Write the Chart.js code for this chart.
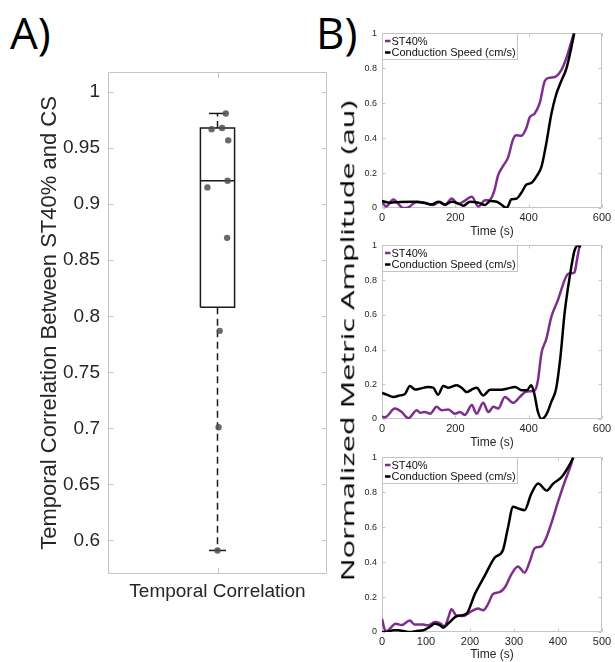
<!DOCTYPE html>
<html lang="en">
<head>
<meta charset="UTF-8">
<title>ST40% vs Conduction Speed</title>
<script src="https://cdn.jsdelivr.net/npm/chart.js@4.4.1/dist/chart.umd.min.js"></script>
<style>
  html, body { margin: 0; padding: 0; background: #fff; overflow: hidden; }
  #wrap { position: relative; width: 615px; height: 662px; }
  canvas { position: absolute; }
  .panel { position: absolute; font-family: "Open Sans", sans-serif; font-size: 44px; line-height: 44px; color: #000; }
  #ylabB { position: absolute; font-family: "Open Sans", sans-serif; font-size: 19px; white-space: nowrap; color: #000; }
</style>
</head>
<body>
<div id="wrap">
  <div class="panel" style="left:10px; top:10px">A)</div>
  <div class="panel" style="left:316px; top:10px">B)</div>
  <canvas id="chartA" width="340" height="662" style="left:0; top:0"></canvas>
  <canvas id="chartB1" width="260" height="217" style="left:355px; top:23px"></canvas>
  <canvas id="chartB2" width="260" height="216" style="left:355px; top:235px"></canvas>
  <canvas id="chartB3" width="260" height="215" style="left:355px; top:447px"></canvas>
  <div id="ylabB">Normalized Metric Amplitude (au)</div>
</div>

<script>
// ---- panel A data ----
const categories = ['Temporal Correlation'];
const corrValues = [0.981, 0.968, 0.967, 0.957, 0.921, 0.915, 0.870, 0.787, 0.701, 0.591];
const corrJitter = [0.038, 0.021, -0.027, 0.049, 0.046, -0.046, 0.044, 0.010, 0.005, 0];
const boxStats = [0.591, 0.808, 0.921, 0.968, 0.981]; // low whisker, q1, median, q3, high whisker
const corrTicks = [0.6, 0.65, 0.7, 0.75, 0.8, 0.85, 0.9, 0.95, 1];

// ---- panel B data ----
const ampTicks = [0, 0.2, 0.4, 0.6, 0.8, 1];
const timeTicks600 = [0, 200, 400, 600];
const timeTicks500 = [0, 100, 200, 300, 400, 500];

const st1Time = [0, 11, 31, 58, 72, 95, 117, 140, 158, 172, 190, 208, 222, 245, 263, 281, 292, 305, 317, 330, 344, 357, 366, 380, 394, 403, 416, 430, 444, 457, 471, 489, 503, 516, 526];
const st1 = [0.036, 0.008, 0.049, 0, 0.004, 0.036, 0.03, 0.017, 0.036, 0.017, 0.055, 0.023, 0.036, 0.064, 0.008, 0.045, 0.045, 0.09, 0.19, 0.24, 0.29, 0.39, 0.416, 0.414, 0.46, 0.52, 0.54, 0.6, 0.727, 0.746, 0.75, 0.79, 0.86, 0.95, 1.02];
const cs1Time = [0, 22, 49, 85, 113, 135, 153, 172, 190, 208, 222, 240, 263, 281, 295, 313, 327, 340, 353, 366, 380, 394, 407, 421, 435, 448, 462, 475, 489, 503, 516, 526];
const cs1 = [0.04, 0.03, 0.035, 0.036, 0.03, 0.02, 0.036, 0.02, 0.036, 0.026, 0.013, 0.036, 0.03, 0.017, 0.04, 0.036, 0.017, 0.0, 0.05, 0.053, 0.087, 0.134, 0.143, 0.18, 0.237, 0.37, 0.54, 0.65, 0.727, 0.8, 0.915, 1.02];

const st2Time = [0, 8, 35, 54, 72, 95, 104, 117, 131, 149, 163, 181, 199, 213, 226, 245, 258, 276, 290, 304, 317, 335, 358, 376, 390, 404, 417, 425, 435, 448, 462, 480, 498, 507, 518, 525, 532, 539];
const st2 = [0.013, 0.01, 0.06, 0.04, 0.004, 0.05, 0.036, 0.04, 0.03, 0.07, 0.05, 0.055, 0.03, 0.04, 0.023, 0.08, 0.03, 0.093, 0.04, 0.07, 0.06, 0.127, 0.093, 0.127, 0.155, 0.16, 0.165, 0.22, 0.38, 0.46, 0.59, 0.686, 0.8, 0.835, 0.84, 0.845, 0.92, 1.0];
const cs2Time = [0, 13, 31, 49, 63, 76, 90, 104, 126, 140, 153, 167, 181, 204, 217, 231, 245, 258, 276, 295, 317, 340, 363, 381, 395, 407, 416, 425, 435, 448, 462, 475, 487, 498, 512, 525, 535, 542];
const cs2 = [0.15, 0.14, 0.127, 0.136, 0.145, 0.19, 0.17, 0.175, 0.185, 0.18, 0.14, 0.19, 0.18, 0.195, 0.18, 0.155, 0.17, 0.18, 0.136, 0.168, 0.168, 0.174, 0.185, 0.165, 0.165, 0.195, 0.14, 0.043, 0.0, 0.025, 0.1, 0.176, 0.365, 0.61, 0.82, 0.97, 1.0, 0.99];

const st3Time = [0, 8, 14, 31, 45, 63, 74, 93, 105, 120, 132, 142, 151, 158, 169, 184, 203, 218, 230, 241, 252, 267, 279, 294, 309, 324, 336, 347, 362, 373, 385, 400, 415, 430, 434];
const st3 = [0.075, 0.005, 0.01, 0.047, 0.04, 0.066, 0.043, 0.043, 0.038, 0.057, 0.05, 0.032, 0.085, 0.13, 0.094, 0.092, 0.118, 0.134, 0.125, 0.16, 0.217, 0.228, 0.255, 0.33, 0.375, 0.34, 0.405, 0.48, 0.49, 0.538, 0.623, 0.745, 0.858, 0.962, 1.0];
const cs3Time = [0, 11, 26, 37, 48, 64, 79, 94, 109, 120, 132, 139, 151, 166, 177, 192, 211, 233, 256, 275, 286, 298, 309, 324, 339, 355, 374, 389, 408, 423, 435];
const cs3 = [0, 0, 0.01, 0.01, 0.006, 0, 0.006, 0.01, 0.03, 0.047, 0.038, 0.025, 0.05, 0.085, 0.094, 0.104, 0.217, 0.32, 0.425, 0.47, 0.594, 0.717, 0.708, 0.698, 0.79, 0.85, 0.81, 0.85, 0.887, 0.943, 1.0];

Chart.defaults.font.family = '"Liberation Sans", Arial, Helvetica, sans-serif';
Chart.defaults.color = '#262626';
Chart.defaults.animation = false;
Chart.defaults.plugins.legend.display = false;
Chart.defaults.plugins.tooltip.enabled = false;

const frameColor = '#c4c4c4';
const purple = '#7e2f8e';

// box round the plot area with inward ticks, like matlab axes
const axesBox = {
  id: 'axesBox',
  beforeDatasetsDraw(chart, args, opts) {
    const {ctx, chartArea: a, scales} = chart;
    const len = opts.tickLen || 4;
    const L = Math.round(a.left) + 0.5, R = Math.round(a.right) - 0.5;
    const T = Math.round(a.top) + 0.5, B = Math.round(a.bottom) - 0.5;
    ctx.save();
    ctx.strokeStyle = frameColor;
    ctx.lineWidth = 1;
    ctx.beginPath();
    ctx.rect(L, T, R - L, B - T);
    scales.x.ticks.forEach(t => {
      const x = Math.round(scales.x.getPixelForValue(t.value)) + 0.5;
      ctx.moveTo(x, B); ctx.lineTo(x, B - len);
      ctx.moveTo(x, T); ctx.lineTo(x, T + len);
    });
    scales.y.ticks.forEach(t => {
      const y = Math.round(scales.y.getPixelForValue(t.value)) + 0.5;
      ctx.moveTo(L, y); ctx.lineTo(L + len, y);
      ctx.moveTo(R, y); ctx.lineTo(R - len, y);
    });
    ctx.stroke();
    ctx.restore();
  }
};

// legend box in the top left corner of the plot
const boxLegend = {
  id: 'boxLegend',
  afterDatasetsDraw(chart) {
    const {ctx, chartArea: a} = chart;
    const items = chart.data.datasets;
    ctx.save();
    ctx.font = '11px "Liberation Sans", Arial, sans-serif';
    const w = Math.round(9 + Math.max(...items.map(d => ctx.measureText(d.label).width)) + 2);
    const x = Math.round(a.left) + 0.5, y = Math.round(a.top) + 0.5, h = 26;
    ctx.fillStyle = '#fff';
    ctx.fillRect(x, y, w, h);
    ctx.strokeStyle = frameColor;
    ctx.lineWidth = 1;
    ctx.strokeRect(x, y, w, h);
    items.forEach((d, i) => {
      const cy = y + 7.5 + i * 11.5;
      ctx.strokeStyle = d.borderColor;
      ctx.lineWidth = 2.5;
      ctx.beginPath();
      ctx.moveTo(x + 2.5, cy); ctx.lineTo(x + 8, cy);
      ctx.stroke();
      ctx.fillStyle = '#111';
      ctx.textBaseline = 'middle';
      ctx.fillText(d.label, x + 9, cy + 0.5);
    });
    ctx.restore();
  }
};

// ---------- panel A : box plot ----------
const bw = 0.078, cw = 0.039;
const [lo, q1, med, q3, hi] = boxStats;
const seg = (pts, extra) => Object.assign({
  data: pts, showLine: true, pointRadius: 0, borderColor: '#1a1a1a', borderWidth: 1.5, fill: false
}, extra || {});

new Chart(document.getElementById('chartA'), {
  type: 'scatter',
  data: {
    datasets: [
      { data: corrValues.map((v, i) => ({x: 1 + corrJitter[i], y: v})),
        pointRadius: 3.2, pointBorderWidth: 0, backgroundColor: 'rgba(80,80,80,0.85)' },
      seg([{x: 1 - bw, y: q1}, {x: 1 + bw, y: q1}, {x: 1 + bw, y: q3}, {x: 1 - bw, y: q3}, {x: 1 - bw, y: q1}]),
      seg([{x: 1 - bw, y: med}, {x: 1 + bw, y: med}]),
      seg([{x: 1, y: q3}, {x: 1, y: hi}], {borderDash: [7, 4.5]}),
      seg([{x: 1, y: q1}, {x: 1, y: lo}], {borderDash: [7, 4.5]}),
      seg([{x: 1 - cw, y: hi}, {x: 1 + cw, y: hi}]),
      seg([{x: 1 - cw, y: lo}, {x: 1 + cw, y: lo}])
    ]
  },
  options: {
    responsive: false,
    layout: { padding: { top: 72, right: 13, left: 0, bottom: 0 } },
    scales: {
      x: {
        type: 'linear', min: 0.5, max: 1.5,
        afterBuildTicks: s => { s.ticks = categories.map((c, i) => ({value: i + 1})); },
        ticks: { font: { size: 19 }, padding: 6, maxRotation: 0, callback: (v, i) => categories[i] },
        grid: { display: false, drawTicks: false },
        border: { display: false },
        afterFit: s => { s.height = 88; }
      },
      y: {
        min: 0.57, max: 1.018,
        afterBuildTicks: s => { s.ticks = corrTicks.map(v => ({value: v})); },
        ticks: { font: { size: 19 }, padding: 8, callback: v => String(+v.toFixed(2)) },
        grid: { display: false, drawTicks: false },
        border: { display: false },
        title: { display: true, text: 'Temporal Correlation Between ST40% and CS',
                 font: { size: 22 }, padding: { top: 37, bottom: 0 } },
        afterFit: s => { s.width = 108; }
      }
    },
    plugins: { axesBox: { tickLen: 5 } }
  },
  plugins: [axesBox]
});

// ---------- panel B : three time courses ----------
function timeChart(id, stT, stV, csT, csV, xMax, xTicks, axisH, titlePad) {
  const line = { showLine: true, pointRadius: 0, borderWidth: 2.5, fill: false,
                 cubicInterpolationMode: 'monotone' };
  return new Chart(document.getElementById(id), {
    type: 'scatter',
    data: {
      datasets: [
        Object.assign({ label: 'ST40%', data: stT.map((t, i) => ({x: t, y: stV[i]})),
                        borderColor: purple, order: 1 }, line),
        Object.assign({ label: 'Conduction Speed (cm/s)', data: csT.map((t, i) => ({x: t, y: csV[i]})),
                        borderColor: '#000', order: 0 }, line)
      ]
    },
    options: {
      responsive: false,
      layout: { padding: { top: 8, right: 13, left: 0, bottom: 0 } },
      scales: {
        x: {
          type: 'linear', min: 0, max: xMax,
          afterBuildTicks: s => { s.ticks = xTicks.map(v => ({value: v})); },
          ticks: { font: { size: 11 }, padding: 3, maxRotation: 0 },
          grid: { display: false, drawTicks: false },
          border: { display: false },
          title: { display: true, text: 'Time (s)', font: { size: 12 }, padding: { top: 0, bottom: titlePad } },
          afterFit: s => { s.height = axisH; }
        },
        y: {
          min: 0, max: 1,
          afterBuildTicks: s => { s.ticks = ampTicks.map(v => ({value: v})); },
          ticks: { font: { size: 9 }, padding: 5, callback: v => String(+v.toFixed(2)) },
          grid: { display: false, drawTicks: false },
          border: { display: false },
          afterFit: s => { s.width = 27; }
        }
      },
      plugins: { axesBox: { tickLen: 3 } }
    },
    plugins: [axesBox, boxLegend]
  });
}

timeChart('chartB1', st1Time, st1, cs1Time, cs1, 600, timeTicks600, 32, 1);
timeChart('chartB2', st2Time, st2, cs2Time, cs2, 600, timeTicks600, 32, 1);
timeChart('chartB3', st3Time, st3, cs3Time, cs3, 500, timeTicks500, 30, 0);

// shared y label of panel B, stretched along its length like the original
function placeYLabel() {
  const el = document.getElementById('ylabB');
  el.style.transform = 'none';
  const w = el.offsetWidth, h = el.offsetHeight;
  el.style.left = (347 - w / 2) + 'px';
  el.style.top = (341 - h / 2) + 'px';
  el.style.transform = 'rotate(-90deg) scaleX(' + (480 / w).toFixed(3) + ')';
}
placeYLabel();
document.fonts.ready.then(placeYLabel);
</script>
</body>
</html>
